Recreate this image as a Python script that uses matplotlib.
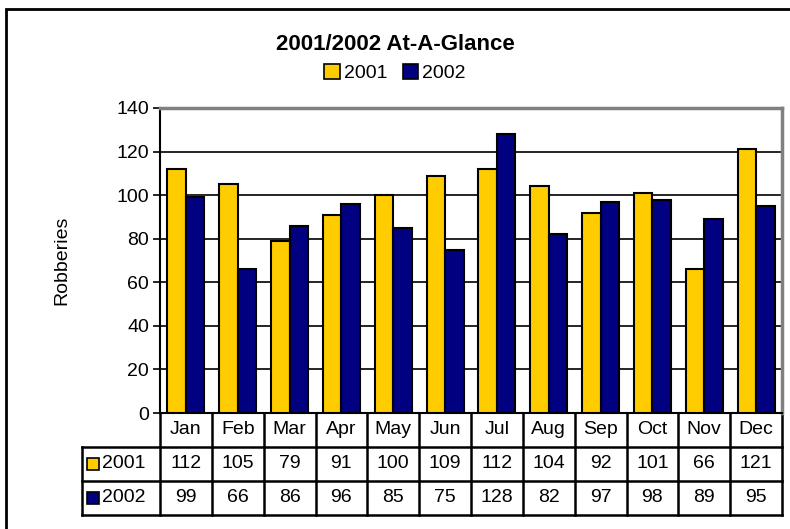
import matplotlib.pyplot as plt
import matplotlib.transforms as mtransforms
from matplotlib.patches import Rectangle, Patch

plt.rcParams['font.family'] = ['Liberation Sans', 'DejaVu Sans']

# Data
months = ['Jan', 'Feb', 'Mar', 'Apr', 'May', 'Jun', 'Jul', 'Aug', 'Sep', 'Oct', 'Nov', 'Dec']
robberies_2001 = [112, 105, 79, 91, 100, 109, 112, 104, 92, 101, 66, 121]
robberies_2002 = [99, 66, 86, 96, 85, 75, 128, 82, 97, 98, 89, 95]
series_names = ['2001', '2002']
yticks = [0, 20, 40, 60, 80, 100, 120, 140]

c2001 = '#FFCC00'
c2002 = '#000080'

W, H = 790, 529
fig = plt.figure(figsize=(W / 100, H / 100), dpi=100)

def fy(py):
    return 1 - py / H

def fx(px):
    return px / W

# plot area in pixels: x 160..782, y 108..413
ax = fig.add_axes([fx(160), fy(413), fx(782) - fx(160), fy(108) - fy(413)])

x = list(range(len(months)))
bw = 0.357
ax.bar([i - bw / 2 for i in x], robberies_2001, bw, color=c2001, edgecolor='black', linewidth=1.5, zorder=3)
ax.bar([i + bw / 2 for i in x], robberies_2002, bw, color=c2002, edgecolor='black', linewidth=1.5, zorder=3)

ax.set_xlim(-0.5, len(months) - 0.5)
ax.set_ylim(0, 140)
ax.set_yticks(yticks)
ax.tick_params(axis='y', labelsize=14, length=5, width=1.2, direction='out', pad=3)
ax.set_xticks([])
ax.yaxis.grid(True, color='black', linewidth=1.2, zorder=0)
ax.set_axisbelow(True)
for s in ['top', 'right']:
    ax.spines[s].set_color('#808080')
    ax.spines[s].set_linewidth(2.5)
ax.spines['left'].set_linewidth(1.5)
ax.spines['bottom'].set_linewidth(1.5)

fig.text(fx(62), fy(260), 'Robberies', rotation=90, fontsize=14, ha='center', va='center')

# title and legend
fig.text(0.5, fy(44), '2001/2002 At-A-Glance', fontsize=16, fontweight='bold', ha='center', va='center')
handles = [Patch(facecolor=c2001, edgecolor='black', linewidth=1.2),
           Patch(facecolor=c2002, edgecolor='black', linewidth=1.2)]
fig.legend(handles, series_names, loc='center', bbox_to_anchor=(0.5, fy(73)), ncol=2, frameon=False,
           fontsize=14, handlelength=0.8, handleheight=0.8, handletextpad=0.2, columnspacing=0.8,
           borderaxespad=0, borderpad=0)

# data table below the axis
trans = mtransforms.blended_transform_factory(ax.transData, fig.transFigure)
y_top, y_r1, y_r2, y_bot = fy(413), fy(447), fy(481), fy(515)
x_left = -2.0
lw = 1.8
for i in range(len(months) + 1):
    ax.plot([i - 0.5, i - 0.5], [y_top, y_bot], color='black', lw=lw, transform=trans, clip_on=False)
ax.plot([x_left, x_left], [y_r1, y_bot], color='black', lw=lw, transform=trans, clip_on=False)
for yy in [y_r1, y_r2, y_bot]:
    ax.plot([x_left, len(months) - 0.5], [yy, yy], color='black', lw=lw, transform=trans, clip_on=False)

for i, m in enumerate(months):
    ax.text(i, fy(430), m, fontsize=14, ha='center', va='center', transform=trans)
    ax.text(i, fy(464), str(robberies_2001[i]), fontsize=14, ha='center', va='center', transform=trans)
    ax.text(i, fy(498), str(robberies_2002[i]), fontsize=14, ha='center', va='center', transform=trans)

for name, col, yc in [(series_names[0], c2001, 464), (series_names[1], c2002, 498)]:
    fig.add_artist(Rectangle((fx(87), fy(yc + 6)), 12 / W, 12 / H, transform=fig.transFigure,
                             facecolor=col, edgecolor='black', linewidth=1.2))
    fig.text(fx(102), fy(yc), name, fontsize=14, ha='left', va='center')

# outer chart frame
fig.add_artist(Rectangle((fx(6), -0.1), 1.2, fy(9) + 0.1, transform=fig.transFigure,
                         fill=False, edgecolor='black', linewidth=2))

fig.savefig('out.png', dpi=100)
